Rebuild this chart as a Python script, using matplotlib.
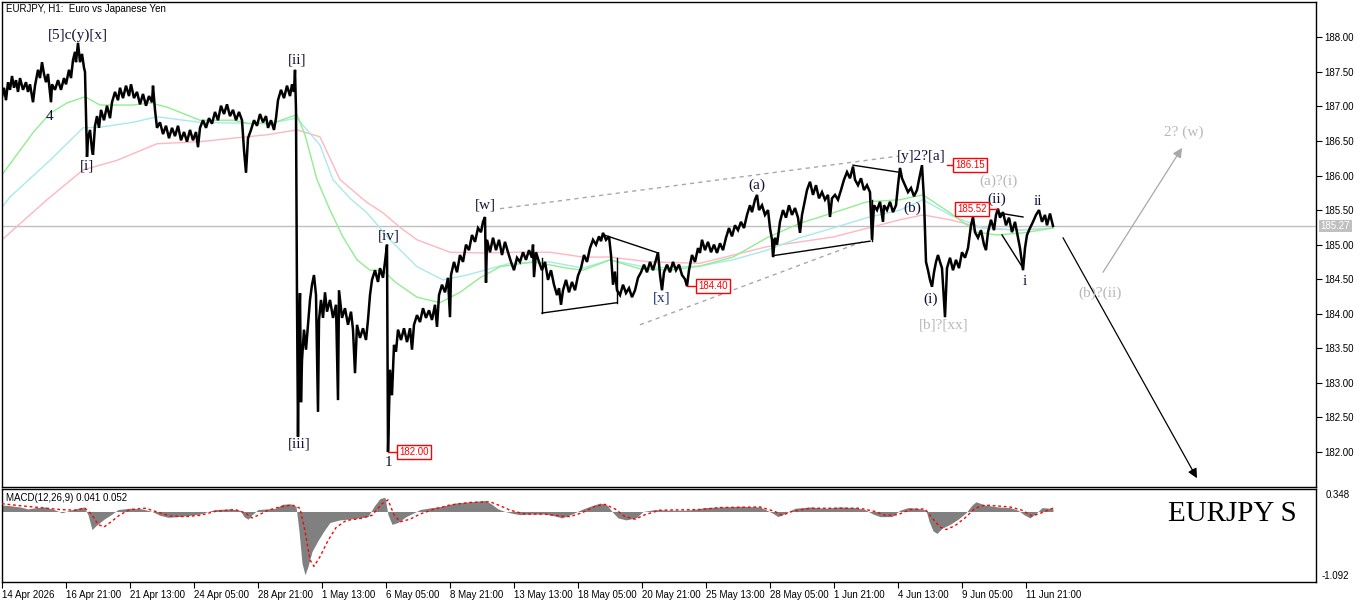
import matplotlib
matplotlib.use("Agg")
import matplotlib.pyplot as plt
import matplotlib.transforms as mtransforms
import numpy as np

plt.rcParams['font.family'] = ['Liberation Sans', 'DejaVu Sans']

# ---------------- data ----------------
# price path (bar index, price)
path_a = [(0,187.14),(2,187.27),(4,187.09),(6,187.35),(8,187.24),(10,187.44),(12,187.27),(14,187.38),(16,187.21),(18,187.41),
          (21,187.24),(24,187.35),(26,187.21),(28,187.32),(31,187.06),(33,187.30),(36,187.53),(38,187.41),(40,187.64),(42,187.47),
          (44,187.35),(46,187.47),(49,187.06),(50,187.32),(53,187.24),(56,187.38),(59,187.24),(62,187.41),(64,187.32),(67,187.53),
          (69,187.41),(71,187.67),(73,187.79),(74,187.64),(76,187.92),(78,187.64),(80,187.76),(82,187.56),(83,187.50),(85,186.27),
          (86,186.54),(88,186.66),(90,186.37),(91,186.30),(93,186.72),(95,186.86),(97,186.69),(99,186.95),(102,186.80),(105,187.01),
          (108,186.83),(110,187.06),(113,187.21),(116,187.09),(118,187.27),(121,187.12),(124,187.30),(127,187.15),(129,187.32),(132,187.12),
          (135,187.21),(138,187.03),(141,187.18),(144,187.01),(147,187.15),(150,187.06),(151,187.30),(153,186.95),(155,186.69),(158,186.77),
          (161,186.60),(164,186.72),(167,186.54),(170,186.69),(173,186.57),(176,186.72),(179,186.51),(182,186.63),(185,186.49),(188,186.66),
          (191,186.51),(194,186.63),(196,186.41),(198,186.69),(201,186.80),(204,186.69),(207,186.83),(210,186.75),(213,186.92),(216,186.80),
          (219,187.01),(222,186.89),(225,187.03),(228,186.86),(231,186.95),(234,186.80),(237,186.92),(240,186.80),(242,186.37),(244,186.04),
          (246,186.54),(249,186.66),(252,186.80),(255,186.72),(258,186.89),(261,186.77),(264,186.86),(266,186.69),(269,186.80),(272,186.66),
          (274,186.83),(276,187.09),(279,187.24),(282,187.12),(285,187.30),(288,187.15),(290,187.32),(292,187.21),(293,187.53),(294,186.95),
          (295,184.20),(296,182.22)]
path_b = [(297,183.77),(298,184.30),(299,182.72),(300,183.33),(302,183.77),(304,183.48),(306,183.84),(308,184.20),(310,184.42),(312,184.56),
          (314,184.27),(316,182.58),(317,183.91),(319,184.20),(321,183.94),(323,184.31),(325,184.03),(328,184.20),(331,183.94),(334,184.13),
          (336,182.75),(337,184.34),(340,183.94),(343,184.08),(346,183.84),(349,184.03),(351,183.77),(353,183.14),(355,183.84),(358,183.65),
          (361,183.79),(364,183.62),(366,183.91),(368,184.27),(370,184.49),(373,184.63),(376,184.46),(378,184.66),(381,184.52),(383,184.75),
          (385,185.00),(386,182.00),(388,183.19),(390,182.82),(392,183.55),(394,183.45),(396,183.77),(399,183.62),(402,183.79),(405,183.59),
          (408,183.79),(410,183.48),(412,183.84),(415,183.98),(418,183.88),(421,184.08),(424,183.94),(427,184.05),(430,183.91),(433,184.13),
          (435,183.81),(437,184.27),(440,184.42),(443,184.31),(446,184.52),(448,183.95),(449,184.56),(452,184.75),(455,184.60),(458,184.85),
          (461,184.75),(464,185.00),(467,184.92),(470,185.14),(473,185.04),(476,185.24),(479,185.18),(481,185.33),(483,185.40),(484,184.45),
          (485,185.07),(488,184.89),(491,185.10),(494,184.92),(497,185.07),(500,184.85),(503,185.04),(506,184.89),(509,184.75),(512,184.63),
          (515,184.81),(518,184.75),(521,184.89),(524,184.78),(527,184.92),(530,184.81),(531,185.00),(532,184.53),(534,184.89),(537,184.75),
          (540,184.63),(543,184.75),(546,184.49),(549,184.63),(552,184.42),(555,184.27),(557,184.37),(559,184.13),(561,184.34),(564,184.49),
          (567,184.31),(570,184.46),(573,184.34),(576,184.55),(579,184.66),(582,184.85),(585,184.75),(588,184.95),(591,185.07),(594,185.00),
          (597,185.12),(599,185.05),(601,185.17),(604,185.07),(607,185.12),(609,184.85),(611,184.42),(613,184.61),(615,184.34),(618,184.27),
          (621,184.42),(624,184.30),(627,184.37),(630,184.24),(633,184.34),(636,184.52),(639,184.60),(642,184.71),(645,184.60),(648,184.75),
          (651,184.63),(654,184.78),(656,184.89),(658,184.56),(660,184.34),(662,184.60),(665,184.71),(668,184.60),(671,184.75),(674,184.63),
          (677,184.71),(680,184.56),(683,184.50),(685,184.40),(687,184.63),(690,184.85),(693,184.75),(696,184.95),(698,184.88)]
path_c = [(700,185.07),(703,184.92),(706,185.04),(709,184.89),(712,185.00),(715,184.88),(718,185.02),(721,184.92),(724,185.10),(727,185.24),
          (730,185.12),(733,185.28),(736,185.21),(739,185.33),(742,185.24),(745,185.43),(748,185.57),(750,185.47),(753,185.65),(755,185.72),
          (757,185.50),(760,185.57),(763,185.43),(766,185.50),(768,185.24),(770,185.07),(771,184.82),(773,185.10),(775,185.00),(778,185.33),
          (781,185.50),(784,185.39),(787,185.57),(790,185.43),(793,185.53),(796,185.39),(798,185.17),(800,185.43),(803,185.65),(805,185.79),
          (808,185.91),(811,185.72),(814,185.86),(817,185.67),(820,185.76),(823,185.65),(826,185.72),(828,185.40),(830,185.67),(833,185.72),
          (836,185.65),(839,185.79),(842,185.94),(845,186.05),(848,185.96),(851,186.13),(853,185.94),(856,185.86),(859,185.96),(862,185.79),
          (865,185.86),(868,185.76),(870,185.07),(872,185.57),(875,185.50),(878,185.62),(881,185.33),(882,185.57),(885,185.50),(888,185.62),
          (891,185.47),(894,185.57),(896,185.86),(898,186.11)]
path_d = [(900,185.96),(903,185.86),(906,185.76),(909,185.82),(912,185.70),(915,185.79),(917,185.94),(920,186.15),(922,185.65),(924,184.75),
          (926,184.63),(928,184.49),(930,184.39),(932,184.60),(934,184.75),(936,184.85),(938,184.75),(940,184.66),(942,184.20),(943,183.95),
          (945,184.66),(948,184.81),(951,184.63),(954,184.78),(957,184.66),(960,184.89),(963,184.81),(966,184.95),(969,185.28),(971,185.40),
          (973,185.18),(976,185.10),(979,185.21),(982,185.00),(984,184.92),(986,185.18),(989,185.36),(992,185.21),(994,185.43),(996,185.52),
          (998,185.39),(1001,185.47),(1004,185.28),(1007,185.39),(1010,185.18),(1013,185.33),(1016,185.10),(1018,184.95),(1021,184.63),(1023,184.95),
          (1025,185.14),(1028,185.24),(1031,185.33),(1034,185.43),(1037,185.50),(1040,185.33),(1043,185.43),(1045,185.28),(1048,185.45),(1051,185.27)]

ma_green = [(0,186.01),(31,186.62),(48,186.90),(65,187.05),(83,187.14),(98,187.02),(131,187.02),(148,187.05),(165,186.99),(198,186.80),
            (231,186.80),(248,186.75),(271,186.76),(295,186.88),(303,186.59),(315,185.94),(328,185.50),(341,185.11),(355,184.78),(368,184.63),
            (381,184.63),(393,184.46),(415,184.24),(438,184.16),(458,184.31),(478,184.52),(498,184.68),(531,184.75),(565,184.66),(581,184.63),
            (608,184.78),(638,184.65),(668,184.63),(698,184.69),(731,184.82),(765,185.10),(798,185.31),(831,185.46),(865,185.62),(898,185.65),
            (921,185.72),(948,185.46),(975,185.18),(995,185.14),(1021,185.17),(1051,185.24)]
ma_cyan = [(0,185.54),(8,185.69),(48,186.22),(81,186.69),(98,186.70),(131,186.77),(155,186.85),(198,186.77),(231,186.76),(265,186.75),
           (295,186.83),(318,186.44),(331,185.94),(348,185.67),(365,185.46),(388,185.07),(415,184.68),(441,184.49),(465,184.56),(508,184.73),
           (548,184.75),(581,184.66),(608,184.78),(648,184.66),(698,184.69),(731,184.78),(765,184.92),(798,185.10),(831,185.24),(865,185.39),
           (898,185.50),(921,185.65),(948,185.43),(981,185.24),(1015,185.21),(1051,185.24)]
ma_pink = [(0,185.07),(45,185.65),(81,186.08),(115,186.22),(155,186.46),(198,186.49),(231,186.54),(265,186.59),(295,186.66),(318,186.56),
           (338,185.94),(365,185.61),(381,185.46),(398,185.25),(415,185.07),(448,184.89),(481,184.88),(515,184.89),(548,184.89),(581,184.82),
           (608,184.82),(648,184.75),(698,184.73),(765,184.97),(831,185.11),(898,185.36),(921,185.43),(948,185.36),(981,185.24),(1015,185.21),
           (1051,185.24)]

macd_hist = [(0,0.10),(8,0.09),(18,0.07),(26,0.04),(34,0.06),(43,0.07),(52,0.03),(60,-0.02),(68,0.02),(76,0.05),(82,0.07),(86,-0.05),
             (90,-0.28),(94,-0.22),(102,-0.12),(110,-0.04),(116,0.03),(128,0.05),(140,0.04),(150,0.0),(158,-0.06),(166,-0.09),(176,-0.08),
             (188,-0.06),(198,-0.04),(206,0.0),(213,0.03),(228,0.04),(238,0.02),(242,-0.08),(246,-0.12),(250,-0.05),(256,0.03),(266,0.04),
             (274,0.05),(280,0.11),(288,0.12),(294,0.08),(297,-0.30),(300,-0.80),(303,-0.98),(306,-0.85),(310,-0.62),(316,-0.45),(322,-0.30),
             (328,-0.17),(338,-0.13),(353,-0.11),(366,-0.08),(372,0.08),(378,0.20),(383,0.22),(386,-0.05),(390,-0.20),(396,-0.17),(404,-0.08),
             (412,-0.02),(418,0.03),(430,0.06),(440,0.08),(453,0.13),(468,0.15),(483,0.17),(489,0.12),(496,0.04),(503,0.0),(511,-0.03),
             (518,-0.05),(528,-0.04),(543,-0.04),(553,-0.07),(560,-0.10),(570,-0.04),(578,0.02),(588,0.08),(598,0.13),(605,0.10),(610,0.0),
             (616,-0.10),(624,-0.13),(634,-0.10),(641,0.0),(653,0.03),(668,0.02),(683,0.02),(691,0.03),(703,0.06),(718,0.07),(738,0.08),
             (758,0.07),(770,-0.02),(776,-0.08),(783,-0.03),(793,0.05),(808,0.07),(823,0.05),(838,0.07),(853,0.06),(863,0.03),(871,-0.04),
             (878,-0.08),(890,-0.08),(898,0.02),(906,0.06),(916,0.05),(924,0.02),(927,-0.15),(931,-0.30),(935,-0.34),(940,-0.26),(948,-0.20),
             (956,-0.12),(964,-0.02),(970,0.10),(974,0.15),(983,0.10),(996,0.07),(1008,0.06),(1016,0.02),(1022,-0.05),(1028,-0.10),(1034,-0.03),
             (1040,0.06),(1048,0.05),(1051,0.041)]
macd_signal = [(0,0.12),(18,0.09),(38,0.06),(58,0.03),(73,0.02),(83,0.05),(90,-0.05),(96,-0.20),(102,-0.24),(110,-0.15),(118,-0.05),
               (128,0.03),(143,0.05),(158,-0.02),(168,-0.07),(183,-0.08),(198,-0.06),(213,0.0),(233,0.03),(243,-0.02),(250,-0.10),(256,-0.06),
               (266,0.02),(278,0.07),(290,0.10),(298,0.05),(303,-0.30),(308,-0.75),(312,-0.85),(318,-0.70),(326,-0.45),(334,-0.25),(344,-0.14),
               (358,-0.11),(370,-0.06),(380,0.12),(386,0.18),(392,-0.05),(398,-0.16),(408,-0.12),(418,-0.04),(433,0.04),(448,0.10),(468,0.14),
               (488,0.15),(498,0.09),(508,0.02),(523,-0.04),(543,-0.04),(558,-0.07),(568,-0.08),(580,-0.02),(593,0.08),(603,0.11),(613,0.04),
               (623,-0.08),(633,-0.12),(643,-0.05),(658,0.02),(698,0.03),(718,0.06),(758,0.07),(773,0.0),(780,-0.06),(790,0.0),(808,0.05),
               (858,0.05),(873,0.0),(883,-0.06),(896,-0.05),(908,0.03),(923,0.04),(930,-0.10),(938,-0.24),(944,-0.28),(953,-0.22),(963,-0.10),
               (973,0.05),(983,0.10),(1008,0.07),(1020,0.02),(1030,-0.07),(1038,-0.03),(1051,0.052)]

last_price = 185.27
price_ticks = [182.0, 182.5, 183.0, 183.5, 184.0, 184.5, 185.0, 185.5, 186.0, 186.5, 187.0, 187.5, 188.0]
date_tick_bars = [0, 64, 128, 192, 256, 320, 384, 448, 512, 576, 640, 704, 768, 832, 896, 960, 1024]
date_tick_labels = ["14 Apr 2026", "16 Apr 21:00", "21 Apr 13:00", "24 Apr 05:00", "28 Apr 21:00", "1 May 13:00",
                    "6 May 05:00", "8 May 21:00", "13 May 13:00", "18 May 05:00", "20 May 21:00", "25 May 13:00",
                    "28 May 05:00", "1 Jun 21:00", "4 Jun 13:00", "9 Jun 05:00", "11 Jun 21:00"]

# wave labels: (text, bar, price, colour)
wave_labels = [("[5]c(y)[x]", 76, 188.03, 'dark'), ("4", 48, 186.85, 'dark'), ("[i]", 85, 186.14, 'dark'),
               ("[ii]", 295, 187.67, 'dark'), ("[iii]", 297, 182.12, 'dark'), ("[iv]", 387, 185.13, 'dark'),
               ("1", 386, 181.85, 'dark'), ("[w]", 483, 185.57, 'dark'), ("[x]", 660, 184.23, 'blue'),
               ("(a)", 755, 185.86, 'dark'), ("[y]2?[a]", 919, 186.28, 'dark'), ("(b)", 910, 185.52, 'dark'),
               ("(i)", 929, 184.21, 'dark'), ("[b]?[xx]", 942, 183.84, 'gray'), ("(a)?(i)", 996, 185.92, 'gray'),
               ("(ii)", 995, 185.66, 'dark'), ("ii", 1036, 185.62, 'dark'), ("i", 1023, 184.46, 'dark'),
               ("2? (w)", 1182, 186.63, 'gray'), ("(b)?(ii)", 1098, 184.30, 'gray')]
price_tags = [(186.15, 945, 968), (185.52, 995, 970), (184.40, 685, 711), (182.00, 386, 412)]

# ---------------- figure ----------------
W, H = 1366, 603
fig = plt.figure(figsize=(W / 100, H / 100), dpi=100)
fig.patch.set_facecolor('white')
ax = fig.add_axes([2 / W, 1 - 487 / H, 1314 / W, 485 / H])
axm = fig.add_axes([2 / W, 1 - 582 / H, 1314 / W, 93 / H])

ax.set_xlim(0, 1314)
ax.set_ylim(181.493, 188.511)
axm.set_xlim(0, 1314)
axm.set_ylim(-1.092, 0.348)

for a in (ax, axm):
    for s in a.spines.values():
        s.set_linewidth(1.0)
        s.set_color('black')

# last price line
ax.axhline(last_price, color='#c0c0c0', lw=1, zorder=1)

# moving averages
for data, col in ((ma_pink, '#ffb6c1'), (ma_cyan, '#a8eaea'), (ma_green, '#90ee90')):
    xs, ys = zip(*data)
    ax.plot(xs, ys, color=col, lw=1.0, zorder=2)

# price
path = path_a + path_b + path_c + path_d
px, py = zip(*path)
ax.plot(px, py, color='black', lw=1.8, zorder=4, solid_joinstyle='miter')

# trend lines / shapes
kline = dict(color='black', lw=1.0, zorder=3)
ax.plot([540, 540], [184.81, 184.01], **kline)
ax.plot([540, 615], [184.01, 184.16], **kline)
ax.plot([615, 615], [184.16, 184.81], **kline)
ax.plot([602, 656], [185.14, 184.88], **kline)
ax.plot([771, 771], [185.08, 184.84], **kline)
ax.plot([771, 868], [184.84, 185.05], **kline)
ax.plot([870, 870], [185.05, 185.65], **kline)
ax.plot([851, 896], [186.15, 186.05], **kline)
ax.plot([996, 1021], [185.46, 185.40], **kline)
ax.plot([1000, 1021], [185.14, 184.66], **kline)
dline = dict(color='#a8a8a8', lw=1.0, ls=(0, (3, 3)), zorder=2)
ax.plot([498, 896], [185.52, 186.28], **dline)
ax.plot([638, 860], [183.84, 185.04], **dline)

# arrows
ax.annotate('', xy=(1195, 181.62), xytext=(1061, 185.10),
            arrowprops=dict(arrowstyle='-|>', color='black', lw=0.9, mutation_scale=14, shrinkA=0, shrinkB=0))
ax.annotate('', xy=(1180, 186.40), xytext=(1101, 184.60),
            arrowprops=dict(arrowstyle='-|>', color='#a8a8a8', lw=0.9, mutation_scale=14, shrinkA=0, shrinkB=0))

# wave labels
colmap = {'dark': '#12123a', 'blue': '#1a2f70', 'gray': '#b8b8b8'}
for txt, b, p, c in wave_labels:
    ax.text(b, p, txt, ha='center', va='center', fontsize=11, family='Liberation Serif',
            color=colmap[c], zorder=6)

# red price tags
for p, b0, bt in price_tags:
    ax.plot([b0, bt - 14], [p, p], color='red', lw=1.0, zorder=5)
    ax.text(bt, p, f"{p:.2f}", ha='center', va='center', fontsize=7, color='red', zorder=6,
            bbox=dict(boxstyle='square,pad=0.2', fc='white', ec='red', lw=1.0))

# right price axis
ax.yaxis.tick_right()
ax.set_yticks(price_ticks)
ax.set_yticklabels([f"{v:.2f}" for v in price_ticks])
ax.tick_params(axis='y', direction='out', length=4, width=0.8, labelsize=7, pad=2, colors='black')
ax.set_xticks([])
trans = mtransforms.blended_transform_factory(ax.transAxes, ax.transData)
ax.text(1.0035, last_price, f"{last_price:.2f}", transform=trans, ha='left', va='center', fontsize=7,
        color='white', clip_on=False, bbox=dict(boxstyle='square,pad=0.15', fc='#c0c0c0', ec='none'))

# MACD
hx, hy = zip(*macd_hist)
axm.fill_between(hx, 0, hy, color='#808080', lw=0, zorder=2)
sx, sy = zip(*macd_signal)
axm.plot(sx, sy, color='red', lw=1.0, ls=(0, (2, 2)), zorder=3)
axm.set_yticks([])
axm.set_xticks(date_tick_bars)
axm.set_xticklabels(date_tick_labels)
axm.tick_params(axis='x', direction='out', length=4, width=0.8, labelsize=7, pad=2)
for lab in axm.get_xticklabels():
    lab.set_horizontalalignment('left')

fig.text(1326 / W, 1 - 495 / H, "0.348", ha='left', va='center', fontsize=7)
fig.text(1322 / W, 1 - 576 / H, "-1.092", ha='left', va='center', fontsize=7)

# titles
fig.text(6 / W, 1 - 9 / H, "EURJPY, H1:  Euro vs Japanese Yen", ha='left', va='center', fontsize=7)
fig.text(6 / W, 1 - 498 / H, "MACD(12,26,9) 0.041 0.052", ha='left', va='center', fontsize=7)
fig.text(1168 / W, 1 - 514 / H, "EURJPY S", ha='left', va='center', fontsize=21, family='Liberation Serif', color='black')

fig.savefig('out.png', dpi=100)
